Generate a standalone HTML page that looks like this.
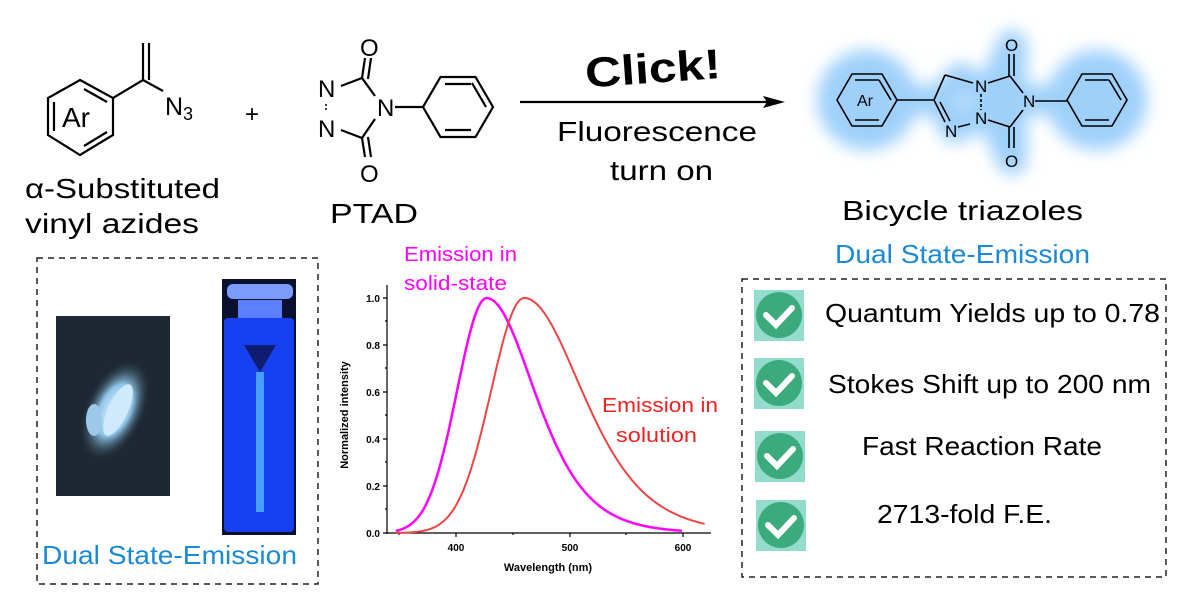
<!DOCTYPE html>
<html><head><meta charset="utf-8"><style>
html,body{margin:0;padding:0;background:#fff;}
svg{display:block;font-family:"Liberation Sans",sans-serif;}
</style></head><body>
<svg id="s" width="1200" height="595" viewBox="0 0 1200 595" xmlns="http://www.w3.org/2000/svg">
<defs>
<filter id="blur" x="-20%" y="-40%" width="140%" height="180%"><feGaussianBlur stdDeviation="8"/></filter>
<radialGradient id="gl" cx="50%" cy="50%" r="50%"><stop offset="0" stop-color="#e8f6ff"/><stop offset="0.5" stop-color="#8ec5e8"/><stop offset="1" stop-color="#1d2a36" stop-opacity="0"/></radialGradient>
</defs>
<g fill="none" stroke="#000" stroke-width="2.2">
<polygon points="80,80 113,98 113,135 80,155 48,135 48,98"/>
<line x1="54" y1="102" x2="54" y2="131"/>
<line x1="84" y1="89" x2="107" y2="102"/>
<line x1="84" y1="146" x2="107" y2="132"/>
<line x1="113" y1="98" x2="143" y2="80"/>
<line x1="143" y1="80" x2="143" y2="43"/><line x1="149" y1="80" x2="149" y2="43"/>
<line x1="143" y1="80" x2="163" y2="91"/>
<line x1="362" y1="78" x2="375" y2="96"/><line x1="362" y1="138" x2="375" y2="119"/>
<line x1="341" y1="86" x2="362" y2="78"/><line x1="341" y1="130" x2="362" y2="138"/>
<line x1="362" y1="78" x2="365" y2="58"/><line x1="368" y1="79" x2="371" y2="58"/>
<line x1="362" y1="138" x2="365" y2="157"/><line x1="368" y1="137" x2="371" y2="157"/>
<line x1="395" y1="107" x2="423" y2="107"/>
<polygon points="493,107 475.5,77 440.5,77 423,107 440.5,137 475.5,137"/>
<line x1="445" y1="84" x2="471" y2="84"/><line x1="445" y1="130" x2="471" y2="130"/><line x1="486" y1="107" x2="472" y2="83"/>
<line x1="520" y1="102" x2="770" y2="102"/>
</g>
<polygon points="785,102 763,96 767,102 763,108" fill="#000"/>
<line x1="326" y1="104" x2="326" y2="110" stroke="#000" stroke-width="1.5" stroke-dasharray="2,2"/>
<g font-size="28" fill="#000">
<text x="62" y="127">Ar</text>
<text x="165" y="115" font-size="25">N</text><text x="183" y="120" font-size="18">3</text>
<text x="245" y="122" font-size="24">+</text>
<text x="318" y="97" font-size="24">N</text><text x="318" y="137" font-size="24">N</text>
<text x="377" y="116" font-size="24">N</text>
<text x="360" y="56" font-size="24">O</text><text x="360" y="182" font-size="24">O</text>
<text x="25" y="198" textLength="195" lengthAdjust="spacingAndGlyphs">α-Substituted</text>
<text x="25" y="233" textLength="174" lengthAdjust="spacingAndGlyphs">vinyl azides</text>
<text x="330" y="223" textLength="88" lengthAdjust="spacingAndGlyphs">PTAD</text>
<text x="585" y="83" font-size="42" transform="rotate(-4 650 70)" font-weight="bold" textLength="136" lengthAdjust="spacingAndGlyphs">Click!</text>
<text x="557" y="141" textLength="200" lengthAdjust="spacingAndGlyphs">Fluorescence</text>
<text x="610" y="180" textLength="103" lengthAdjust="spacingAndGlyphs">turn on</text>
<text x="842" y="220" textLength="241" lengthAdjust="spacingAndGlyphs">Bicycle triazoles</text>
<text x="835" y="263" font-size="26" fill="#1a8ad4" textLength="255" lengthAdjust="spacingAndGlyphs">Dual State-Emission</text>
</g>
<g filter="url(#blur)" fill="#9fd0fa" stroke="#9fd0fa" stroke-width="30" stroke-linejoin="round">
<circle cx="867" cy="100" r="35"/><circle cx="1097" cy="100" r="35"/>
<polyline fill="none" points="867,100 940,100 960,78 990,95 1012,45 1012,160 990,110 955,128 940,100" />
<line x1="990" y1="100" x2="1097" y2="100"/>
</g>
<g fill="none" stroke="#000" stroke-width="1.6">
<polygon points="897,100 882,74 852,74 837,100 852,126 882,126"/>
<line x1="855" y1="80" x2="879" y2="80"/><line x1="855" y1="120" x2="879" y2="120"/><line x1="891" y1="100" x2="879" y2="80"/>
<line x1="897" y1="100" x2="934" y2="100"/>
<line x1="934" y1="100" x2="945" y2="75"/><line x1="945" y1="75" x2="973" y2="83"/>
<line x1="934" y1="100" x2="945" y2="122"/><line x1="940" y1="102" x2="950" y2="121"/>
<line x1="958" y1="127" x2="970" y2="124"/>
<line x1="981" y1="94" x2="981" y2="110" stroke-dasharray="3,2"/>
<line x1="988" y1="83" x2="1010" y2="76"/><line x1="988" y1="120" x2="1010" y2="127"/>
<line x1="1010" y1="76" x2="1023" y2="93"/><line x1="1010" y1="127" x2="1023" y2="110"/>
<line x1="1009" y1="76" x2="1009" y2="54"/><line x1="1014" y1="76" x2="1014" y2="54"/>
<line x1="1009" y1="127" x2="1009" y2="148"/><line x1="1014" y1="127" x2="1014" y2="148"/>
<line x1="1035" y1="101" x2="1067" y2="101"/>
<polygon points="1127,100 1112,74 1082,74 1067,100 1082,126 1112,126"/>
<line x1="1085" y1="80" x2="1109" y2="80"/><line x1="1085" y1="120" x2="1109" y2="120"/><line x1="1121" y1="100" x2="1109" y2="80"/>
</g>
<g font-size="17" fill="#000">
<text x="857" y="106" font-size="16">Ar</text>
<text x="975" y="92">N</text><text x="975" y="124">N</text><text x="945" y="137">N</text>
<text x="1023" y="107">N</text>
<text x="1005" y="51">O</text><text x="1005" y="167">O</text>
</g>
<rect x="37" y="258" width="281" height="326" fill="none" stroke="#222" stroke-width="1.5" stroke-dasharray="6,5"/>
<rect x="56" y="316" width="114" height="180" fill="#1d2832"/>
<ellipse cx="115" cy="410" rx="30" ry="55" fill="url(#gl)" transform="rotate(25 115 410)"/>
<ellipse cx="118" cy="410" rx="10" ry="28" fill="#cfeafc" transform="rotate(25 118 410)"/>
<ellipse cx="94" cy="420" rx="8" ry="16" fill="#9cc9ea"/>
<rect x="222" y="279" width="74" height="256" fill="#0b1030"/>
<rect x="227" y="284" width="66" height="15" rx="6" fill="#7d9cff"/>
<rect x="238" y="300" width="44" height="20" fill="#5a80ff"/>
<rect x="224" y="318" width="70" height="214" rx="4" fill="#1740f0"/>
<polygon points="244,345 276,345 260,372" fill="#0f1d70"/>
<rect x="256" y="372" width="8" height="140" fill="#46a0ff"/>
<text x="42" y="564" font-size="26" fill="#1a8ad4" textLength="255" lengthAdjust="spacingAndGlyphs">Dual State-Emission</text>
<g fill="none" stroke="#000" stroke-width="1.2">
<line x1="387" y1="285" x2="387" y2="534"/><line x1="387" y1="533" x2="711" y2="533"/>
<path d="M387,298h-4M387,345h-4M387,392h-4M387,439h-4M387,486h-4M387,533h-4M387,321h-2M387,368h-2M387,415h-2M387,462h-2M387,509h-2"/>
<path d="M456,533v4M570,533v4M683,533v4M399,533v2M513,533v2M626,533v2"/>
</g>
<g font-size="10" font-weight="bold" fill="#000" text-anchor="end">
<text x="380" y="302">1.0</text><text x="380" y="349">0.8</text><text x="380" y="396">0.6</text><text x="380" y="443">0.4</text><text x="380" y="490">0.2</text><text x="380" y="537">0.0</text>
</g>
<g font-size="10" font-weight="bold" fill="#000" text-anchor="middle">
<text x="456" y="551">400</text><text x="570" y="551">500</text><text x="683" y="551">600</text>
<text x="548" y="571" font-size="11">Wavelength (nm)</text>
<text transform="translate(348 415) rotate(-90)" font-size="11">Normalized intensity</text>
</g>
<path id="mg" fill="none" stroke="#ff00ff" stroke-width="2.5"/>
<path id="rd" fill="none" stroke="#ee4444" stroke-width="2"/>
<text x="404" y="261" font-size="20" fill="#ff00ff" textLength="113" lengthAdjust="spacingAndGlyphs">Emission in</text>
<text x="404" y="290" font-size="20" fill="#ff00ff" textLength="103" lengthAdjust="spacingAndGlyphs">solid-state</text>
<text x="602" y="412" font-size="20" fill="#ee2222" textLength="116" lengthAdjust="spacingAndGlyphs">Emission in</text>
<text x="616" y="442" font-size="20" fill="#ee2222" textLength="81" lengthAdjust="spacingAndGlyphs">solution</text>
<rect x="742" y="279" width="424" height="298" fill="none" stroke="#222" stroke-width="1.5" stroke-dasharray="6,5"/>
<g font-size="26" fill="#000">
<text x="825" y="322" textLength="335" lengthAdjust="spacingAndGlyphs">Quantum Yields up to 0.78</text>
<text x="828" y="393" textLength="323" lengthAdjust="spacingAndGlyphs">Stokes Shift up to 200 nm</text>
<text x="862" y="455" textLength="240" lengthAdjust="spacingAndGlyphs">Fast Reaction Rate</text>
<text x="877" y="523" textLength="175" lengthAdjust="spacingAndGlyphs">2713-fold F.E.</text>
</g>
<g>
<g transform="translate(754,290)"><rect width="50" height="51" fill="#93dccb"/><circle cx="25" cy="25" r="23" fill="#3bab7e"/><path d="M12,25 L22,35 L38,18" fill="none" stroke="#fff" stroke-width="6" stroke-linecap="round"/></g>
<g transform="translate(754,358)"><rect width="50" height="51" fill="#93dccb"/><circle cx="25" cy="25" r="23" fill="#3bab7e"/><path d="M12,25 L22,35 L38,18" fill="none" stroke="#fff" stroke-width="6" stroke-linecap="round"/></g>
<g transform="translate(755,431)"><rect width="50" height="51" fill="#93dccb"/><circle cx="25" cy="25" r="23" fill="#3bab7e"/><path d="M12,25 L22,35 L38,18" fill="none" stroke="#fff" stroke-width="6" stroke-linecap="round"/></g>
<g transform="translate(756,500)"><rect width="50" height="51" fill="#93dccb"/><circle cx="25" cy="25" r="23" fill="#3bab7e"/><path d="M12,25 L22,35 L38,18" fill="none" stroke="#fff" stroke-width="6" stroke-linecap="round"/></g>
</g>
</svg>
<script>
function px(w){return 456+(w-400)*1.135;}
function py(v){return 533-v*235;}
function mk(pk,sl,sr,w0,w1){var d="";for(var w=w0;w<=w1;w+=2){var x=w-pk,v;if(x<0)v=Math.exp(-x*x/(2*sl*sl));else{var c=Math.cosh(x/sr);v=1/(c*c);}d+=(d?"L":"M")+px(w).toFixed(1)+","+py(v).toFixed(1);}return d;}
document.getElementById("mg").setAttribute("d",mk(427,26,57,347,600));
document.getElementById("rd").setAttribute("d",mk(460,29,69,347,620));
</script>
</body></html>
